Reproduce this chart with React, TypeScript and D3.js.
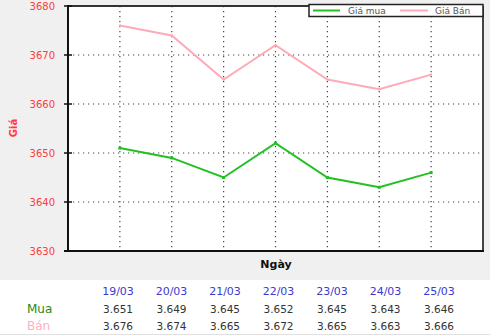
import React from "react";
import * as d3 from "d3";

const dates = ["19/03", "20/03", "21/03", "22/03", "23/03", "24/03", "25/03"];
const buy = [3651, 3649, 3645, 3652, 3645, 3643, 3646];
const sell = [3676, 3674, 3665, 3672, 3665, 3663, 3666];
const yTicks = [3630, 3640, 3650, 3660, 3670, 3680];
const buyLabels = ["3.651", "3.649", "3.645", "3.652", "3.645", "3.643", "3.646"];
const sellLabels = ["3.676", "3.674", "3.665", "3.672", "3.665", "3.663", "3.666"];

const W = 490, H = 335;
const L = 68, R = 483, T = 6, B = 251;

export default function App() {
  const x = d3.scalePoint<string>().domain(dates).range([L, R]).padding(1);
  const y = d3.scaleLinear().domain([3630, 3680]).range([B, T]);
  const tx = d3.scalePoint<string>().domain(dates).range([118, 439]);
  const line = d3.line<number>().x((_, i) => x(dates[i])!).y((d) => y(d));
  const font = "'DejaVu Sans', Verdana, sans-serif";
  const green = "#22c022";
  const pink = "#ffaab8";

  return (
    <svg width={W} height={H} style={{ position: "absolute", left: 0, top: 0 }} fontFamily={font}>
      <rect x={0} y={0} width={W} height={H} fill="#f0f0f0" />
      <rect x={0} y={280} width={W} height={55} fill="#ffffff" />
      <line x1={0} x2={W} y1={334.5} y2={334.5} stroke="#e0e0e0" />
      <rect x={L} y={T} width={R - L} height={B - T} fill="#ffffff" />
      {/* grid */}
      {yTicks.slice(1, -1).map((t) => (
        <line key={t} x1={L} x2={R} y1={y(t)} y2={y(t)} stroke="#444" strokeWidth={1.2} strokeDasharray="1.2,3.8" />
      ))}
      {dates.map((d) => (
        <line key={d} x1={x(d)} x2={x(d)} y1={T} y2={B} stroke="#444" strokeWidth={1.2} strokeDasharray="1.2,3.8" />
      ))}
      {/* frame */}
      <line x1={L} x2={R} y1={T} y2={T} stroke="#333" strokeWidth={2} />
      <line x1={R} x2={R} y1={T} y2={B} stroke="#444" strokeWidth={2} />
      <line x1={L} x2={L} y1={T - 1} y2={B + 1} stroke="#111" strokeWidth={2} />
      <line x1={L - 4} x2={R + 1} y1={B} y2={B} stroke="#111" strokeWidth={2} />
      {/* y ticks */}
      {yTicks.map((t) => (
        <g key={t}>
          <line x1={L - 4} x2={L + 4} y1={y(t)} y2={y(t)} stroke="#111" strokeWidth={1.5} />
          <text x={55} y={y(t)} dy="0.35em" textAnchor="end" fontSize={10} fill="#ff3b3b">
            {t}
          </text>
        </g>
      ))}
      <text transform="translate(17,128) rotate(-90)" textAnchor="middle" fontSize={10} fontWeight="bold" fill="#ff3b3b">
        Giá
      </text>
      <text x={276} y={264} dy="0.35em" textAnchor="middle" fontSize={11} fontWeight="bold" fill="#111">
        Ngày
      </text>
      {/* lines */}
      <path d={line(sell)!} fill="none" stroke={pink} strokeWidth={2} />
      <path d={line(buy)!} fill="none" stroke={green} strokeWidth={2} />
      {buy.map((v, i) => (
        <rect key={i} x={x(dates[i])! - 1.5} y={y(v) - 1.5} width={3} height={3} fill={green} />
      ))}
      {sell.map((v, i) => (
        <rect key={i} x={x(dates[i])! - 1} y={y(v) - 1} width={2} height={2} fill={pink} />
      ))}
      {/* legend */}
      <rect x={309} y={4.5} width={174} height={12} fill="#ffffff" stroke="#222" strokeWidth={1.5} />
      <line x1={313} x2={340} y1={10.5} y2={10.5} stroke={green} strokeWidth={2} />
      <text x={348} y={10.5} dy="0.35em" fontSize={9} fill="#555">Giá mua</text>
      <line x1={400} x2={428} y1={10.5} y2={10.5} stroke={pink} strokeWidth={2} />
      <text x={435} y={10.5} dy="0.35em" fontSize={9} fill="#555">Giá Bán</text>
      {/* table */}
      {dates.map((d, i) => (
        <g key={d}>
          <text x={tx(d)} y={291} dy="0.35em" textAnchor="middle" fontSize={11} fill="#3a3acc">{d}</text>
          <text x={tx(d)} y={309} dy="0.35em" textAnchor="middle" fontSize={10.5} fill="#333">{buyLabels[i]}</text>
          <text x={tx(d)} y={326} dy="0.35em" textAnchor="middle" fontSize={10.5} fill="#333">{sellLabels[i]}</text>
        </g>
      ))}
      <text x={27} y={309} dy="0.35em" fontSize={12} fill="#1e8a1e">Mua</text>
      <text x={27} y={326} dy="0.35em" fontSize={12} fill="#ffb0c0">Bán</text>
    </svg>
  );
}
